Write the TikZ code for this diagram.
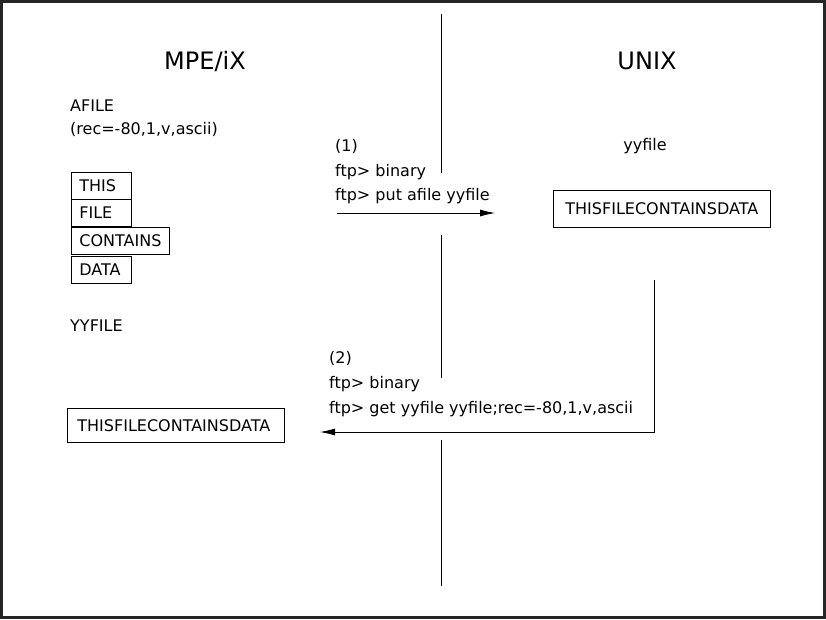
\documentclass[tikz,border=0pt]{standalone}
\usepackage{fontspec}
\setmainfont{DejaVu Sans}
\usepackage{tikz}
\usetikzlibrary{arrows.meta}

\tikzset{
  txt/.style={anchor=base west, inner sep=0pt, font=\fontsize{16}{18}\selectfont},
  title/.style={anchor=base, inner sep=0pt, font=\fontsize{24}{28}\selectfont},
  recbox/.style={draw, line width=0.8pt, anchor=north west, inner xsep=8pt, inner ysep=0pt,
    minimum height=27pt, align=left, font=\fontsize{16}{18}\selectfont},
  flow/.style={line width=0.8pt, -{Latex[length=15pt,width=7pt]}}
}

\begin{document}
\begin{tikzpicture}[x=1pt,y=-1pt]
% frame
\fill[black!85] (0,0) rectangle (826,619);
\fill[white] (3,3) rectangle (823,616);
\useasboundingbox (0,0) rectangle (826,619);

% headings
\node[title] (MPE) at (205,69) {MPE/iX};
\node[title] (UNIX) at (647,69) {UNIX};

% divider
\coordinate (D1) at (441,14);  \coordinate (D2) at (441,173);
\coordinate (D3) at (441,235); \coordinate (D4) at (441,378);
\coordinate (D5) at (441,440); \coordinate (D6) at (441,586);
\draw[line width=0.8pt] (D1) -- (D2) (D3) -- (D4) (D5) -- (D6);

% MPE/iX side
\node[txt] (Afile) at (70,111) {AFILE};
\node[txt] (Arec) at (70,134) {(rec=-80,1,v,ascii)};
\node[recbox, text width=44pt] (R1) at (71,172) {THIS};
\node[recbox, text width=44pt] (R2) at (71,199) {FILE};
\node[recbox, text width=82pt] (R3) at (71,227) {CONTAINS};
\node[recbox, text width=44pt] (R4) at (71,256) {DATA};
\node[txt] (Yyup) at (70,331) {YYFILE};
\node[recbox, text width=197pt, minimum height=34pt, inner xsep=10pt] (Lbox) at (67,408) {THISFILECONTAINSDATA};

% UNIX side
\node[title, font=\fontsize{16}{18}\selectfont] (Yy) at (645,150) {yyfile};
\node[recbox, text width=193pt, minimum height=37pt, inner xsep=12pt] (Rbox) at (553,190) {THISFILECONTAINSDATA};

% step 1
\node[txt] (S1a) at (335,151) {(1)};
\node[txt] (S1b) at (335,176) {ftp> binary};
\node[txt] (S1c) at (335,200) {ftp> put afile yyfile};
\coordinate (P1) at (337,213);
\coordinate (P2) at (495,213);
\draw[flow] (P1) -- (P2);

% step 2
\node[txt] (S2a) at (329,363) {(2)};
\node[txt] (S2b) at (329,388) {ftp> binary};
\node[txt] (S2c) at (329,413) {ftp> get yyfile yyfile;rec=-80,1,v,ascii};
\coordinate (G1) at (654,280);
\coordinate (G2) at (320,432);
\draw[flow] (G1) |- (G2);
\end{tikzpicture}
\end{document}
